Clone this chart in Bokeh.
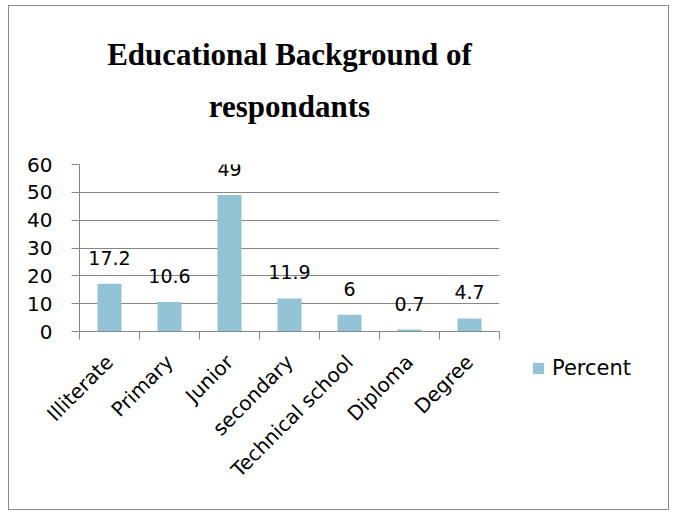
import math
from bokeh.plotting import figure
from bokeh.layouts import row
from bokeh.models import (ColumnDataSource, Range1d, FixedTicker, LabelSet,
                          Legend, LegendItem, Title, CDSView, IndexFilter,
                          LinearAxis)
from bokeh.core.properties import value
from bokeh.embed import file_html
from bokeh.resources import INLINE

# ---- data ----
categories = ["Illiterate", "Primary", "Junior", "secondary",
              "Technical school", "Diploma", "Degree"]
percent = [17.2, 10.6, 49, 11.9, 6, 0.7, 4.7]
value_labels = ["17.2", "10.6", "49", "11.9", "6", "0.7", "4.7"]
y_ticks = [0, 10, 20, 30, 40, 50, 60]
series_name = "Percent"
title_line1 = "Educational Background of"
title_line2 = "respondants"

xs = [i + 0.5 for i in range(len(categories))]
src = ColumnDataSource(dict(x=xs, top=percent, lab=value_labels))

BAR = "#93C4D5"
GRID = "#868686"
FONT = "DejaVu Sans"
TFONT = "Liberation Serif"
H = 503

p = figure(width=510, height=H, output_backend="svg", toolbar_location=None,
           x_range=Range1d(0, len(categories)), y_range=Range1d(0, 60),
           min_border_left=70, min_border_right=20,
           min_border_top=158, min_border_bottom=178)
p.outline_line_color = None
p.background_fill_color = "white"
p.border_fill_color = "white"

r = p.vbar(x="x", top="top", width=0.4, source=src, fill_color=BAR,
           line_color=None)

# y axis
p.yaxis.ticker = FixedTicker(ticks=y_ticks)
p.yaxis.axis_line_color = GRID
p.yaxis.major_tick_line_color = GRID
p.yaxis.major_tick_out = 8
p.yaxis.major_tick_in = 0
p.yaxis.minor_tick_line_color = None
p.yaxis.major_label_text_font = FONT
p.yaxis.major_label_text_font_size = "20px"
p.yaxis.major_label_text_color = "black"
p.yaxis.major_label_standoff = 19

# x axis: labels at centers, ticks at category boundaries
p.xaxis.ticker = FixedTicker(ticks=xs,
                             minor_ticks=list(range(len(categories) + 1)))
p.xaxis.major_label_overrides = {x: c for x, c in zip(xs, categories)}
p.xaxis.axis_line_color = GRID
p.xaxis.major_tick_line_color = None
p.xaxis.major_tick_out = 0
p.xaxis.major_tick_in = 0
p.xaxis.minor_tick_line_color = GRID
p.xaxis.minor_tick_out = 8
p.xaxis.minor_tick_in = 0
p.xaxis.major_label_orientation = math.pi / 4
p.xaxis.major_label_text_font = FONT
p.xaxis.major_label_text_font_size = "20px"
p.xaxis.major_label_text_color = "black"
p.xaxis.major_label_standoff = 19

p.xgrid.grid_line_color = None
p.ygrid.ticker = FixedTicker(ticks=y_ticks)
p.ygrid.grid_line_color = GRID
p.ygrid.grid_line_width = 1

# data labels
labels = LabelSet(x="x", y="top", text="lab", source=src, y_offset=19,
                  text_align="center", text_baseline="alphabetic",
                  text_font=value(FONT), text_font_size="19px",
                  text_color="black")
p.add_layout(labels)

# title: second line carried by a tick-less axis above the frame,
# first line by the plot title stacked above it
title_axis = LinearAxis(ticker=FixedTicker(ticks=[]), axis_label=title_line2,
                        axis_line_color=None, major_tick_line_color=None,
                        minor_tick_line_color=None, major_tick_out=0,
                        major_tick_in=0, minor_tick_out=0, minor_tick_in=0,
                        major_label_standoff=0, axis_label_standoff=41,
                        axis_label_text_font=TFONT,
                        axis_label_text_font_style="bold",
                        axis_label_text_font_size="31px",
                        axis_label_text_color="black")
p.add_layout(title_axis, "above")
p.title = Title(text=title_line1, align="center",
                text_font=TFONT, text_font_style="bold",
                text_font_size="31px", standoff=28, text_color="black")

# legend panel (key glyph uses the bar source; it lies outside this frame)
q = figure(width=149, height=H, output_backend="svg", toolbar_location=None,
           x_range=Range1d(2, 3), y_range=Range1d(0, 60),
           x_axis_location=None, y_axis_location=None,
           min_border=0, outline_line_color=None)
q.frame_align = False
q.grid.visible = False
q.background_fill_color = "white"
q.border_fill_color = "white"
q.title.visible = False
key = q.vbar(x="x", top="top", width=0.4, source=src, fill_color=BAR,
             line_color=None, view=CDSView(filter=IndexFilter([0])))
key.visible = False
legend = Legend(items=[LegendItem(label=series_name, renderers=[key])],
                location=(12, 129), glyph_width=14, glyph_height=14,
                label_standoff=7, padding=0, margin=0,
                label_text_font=FONT, label_text_font_size="21px",
                label_text_color="black", inactive_fill_alpha=0,
                border_line_color=None, background_fill_alpha=0)
q.add_layout(legend, "center")

layout = row(p, q)
layout.styles = {"border": "1px solid #8a8a8a", "margin-left": "8px",
                 "margin-top": "5px"}

open("out.html", "w").write(file_html(layout, INLINE))
